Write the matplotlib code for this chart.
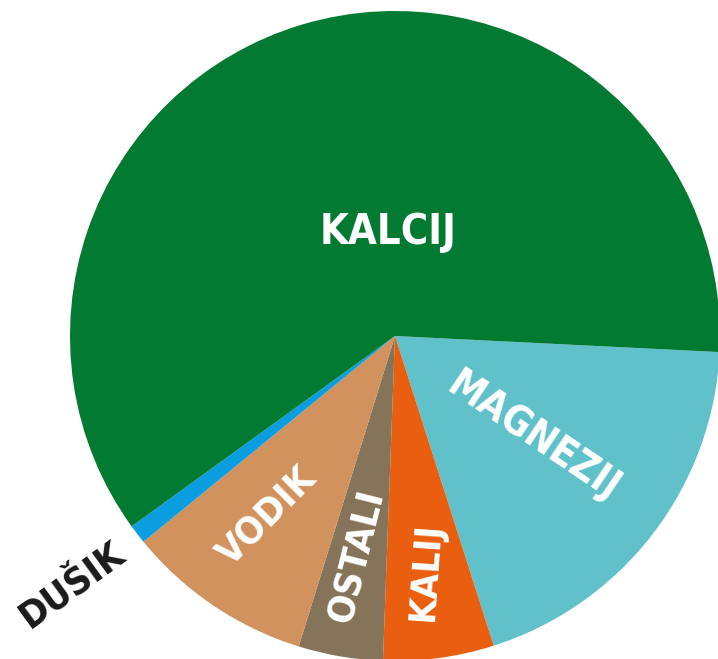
import matplotlib
matplotlib.use("Agg")
import matplotlib.pyplot as plt

labels = ["MAGNEZIJ", "KALIJ", "OSTALI", "VODIK", "DUŠIK", "KALCIJ"]
values = [19.3, 5.5, 4.2, 9.3, 0.95, 60.75]
colors = ["#61C1CB", "#E95E0F", "#85745A", "#D2925E", "#0A9EE0", "#037A32"]

W, H = 718, 659
cx, cy, R = 395, 336, 325

fig = plt.figure(figsize=(W / 100, H / 100), dpi=100)
ax = fig.add_axes([0, 0, 1, 1])
ax.pie(values, colors=colors, startangle=-2.84, counterclock=False, radius=1.0,
       wedgeprops=dict(linewidth=0))
ax.set_xlim(-cx / R, (W - cx) / R)
ax.set_ylim(-(H - cy) / R, cy / R)
ax.set_aspect("equal")
ax.axis("off")

def P(px, py):
    return (px - cx) / R, (cy - py) / R

font = dict(family="DejaVu Sans", fontstretch="condensed", fontweight="bold")
texts = [
    ("KALCIJ", (388, 232), 0, 30, "white"),
    ("MAGNEZIJ", (533, 437), -34, 28.5, "white"),
    ("KALIJ", (426, 571), 86, 27, "white"),
    ("OSTALI", (357, 557), 76, 27.5, "white"),
    ("VODIK", (268, 517), 45, 27.5, "white"),
    ("DUŠIK", (72, 585), 36, 27.5, "#1a1a1a"),
]
for t, (px, py), rot, fs, c in texts:
    x, y = P(px, py)
    ax.text(x, y, t, rotation=rot, rotation_mode="anchor", ha="center", va="center",
            fontsize=fs, color=c, **font)

fig.savefig("out.png", dpi=100)
